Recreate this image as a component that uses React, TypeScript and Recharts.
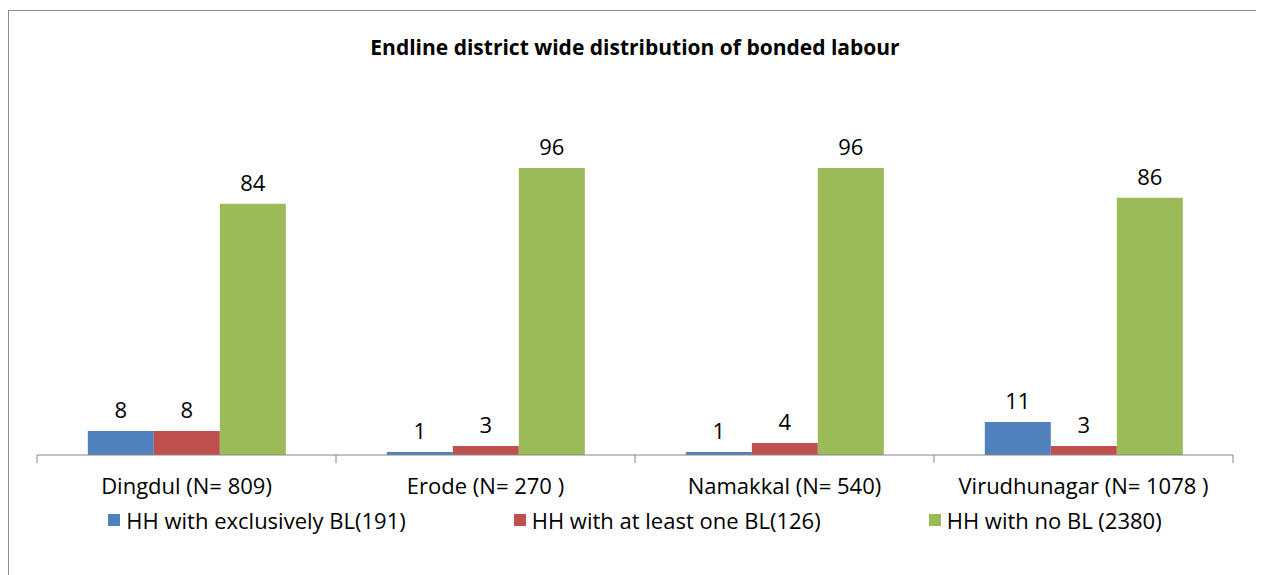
import { BarChart, Bar, XAxis, YAxis, Legend, LabelList } from "recharts";

const categories = ["Dingdul (N= 809)", "Erode (N= 270 )", "Namakkal (N= 540)", "Virudhunagar (N= 1078 )"];
const exclusivelyBL = [8, 1, 1, 11];
const atLeastOneBL = [8, 3, 4, 3];
const noBL = [84, 96, 96, 86];

const SERIES = [
  { key: "exclusive", name: "HH with exclusively BL(191)", color: "#4F81BD" },
  { key: "atLeastOne", name: "HH with at least one BL(126)", color: "#C0504D" },
  { key: "none", name: "HH with no BL (2380)", color: "#9BBB59" },
];

const data = categories.map((c, i) => ({
  name: c,
  exclusive: exclusivelyBL[i],
  atLeastOne: atLeastOneBL[i],
  none: noBL[i],
}));

const FONT = "'Open Sans', 'Noto Sans', sans-serif";

function CategoryTick(props: any) {
  const { x, y, payload, index, visibleTicksCount, width } = props;
  const half = payload?.offset ?? width / visibleTicksCount / 2;
  return (
    <g>
      <line x1={x - half} y1={y} x2={x - half} y2={y + 8} stroke="#868686" />
      {index === visibleTicksCount - 1 && (
        <line x1={x + half} y1={y} x2={x + half} y2={y + 8} stroke="#868686" />
      )}
      <text x={x} y={y + 39} textAnchor="middle" fontSize={22} fill="#000" fontFamily={FONT}>
        {payload.value}
      </text>
    </g>
  );
}

function LegendContent() {
  return (
    <div style={{ display: "flex", justifyContent: "center", fontFamily: FONT, fontSize: 22, color: "#000" }}>
      {SERIES.map((s, i) => (
        <div key={s.key} style={{ display: "flex", alignItems: "center", marginRight: i < SERIES.length - 1 ? 108 : 0 }}>
          <span style={{ display: "inline-block", width: 12, height: 12, background: s.color, marginRight: 6 }} />
          <span>{s.name}</span>
        </div>
      ))}
    </div>
  );
}

export default function App() {
  return (
    <div
      style={{
        width: 1252,
        height: 570,
        marginTop: 2,
        border: "1px solid #8c8c8c",
        background: "#fff",
        position: "relative",
      }}
    >
      <div
        style={{
          position: "absolute",
          top: 22,
          width: "100%",
          textAlign: "center",
          fontFamily: FONT,
          fontWeight: 700,
          fontSize: 21,
          color: "#000",
        }}
      >
        Endline district wide distribution of bonded labour
      </div>
      <BarChart
        width={1252}
        height={570}
        data={data}
        margin={{ top: 145, right: 28, left: 28, bottom: 46 }}
        barCategoryGap="17%"
        barGap={0}
      >
        <XAxis
          dataKey="name"
          axisLine={{ stroke: "#868686" }}
          tickLine={false}
          tickSize={0}
          tickMargin={0}
          height={50}
          interval={0}
          tick={<CategoryTick />}
        />
        <YAxis hide domain={[0, 100]} />
        <Legend verticalAlign="bottom" content={<LegendContent />} />
        {SERIES.map((s) => (
          <Bar key={s.key} dataKey={s.key} name={s.name} fill={s.color} isAnimationActive={false}>
            <LabelList dataKey={s.key} position="top" offset={13} fontSize={22} fill="#000" fontFamily={FONT} />
          </Bar>
        ))}
      </BarChart>
    </div>
  );
}
